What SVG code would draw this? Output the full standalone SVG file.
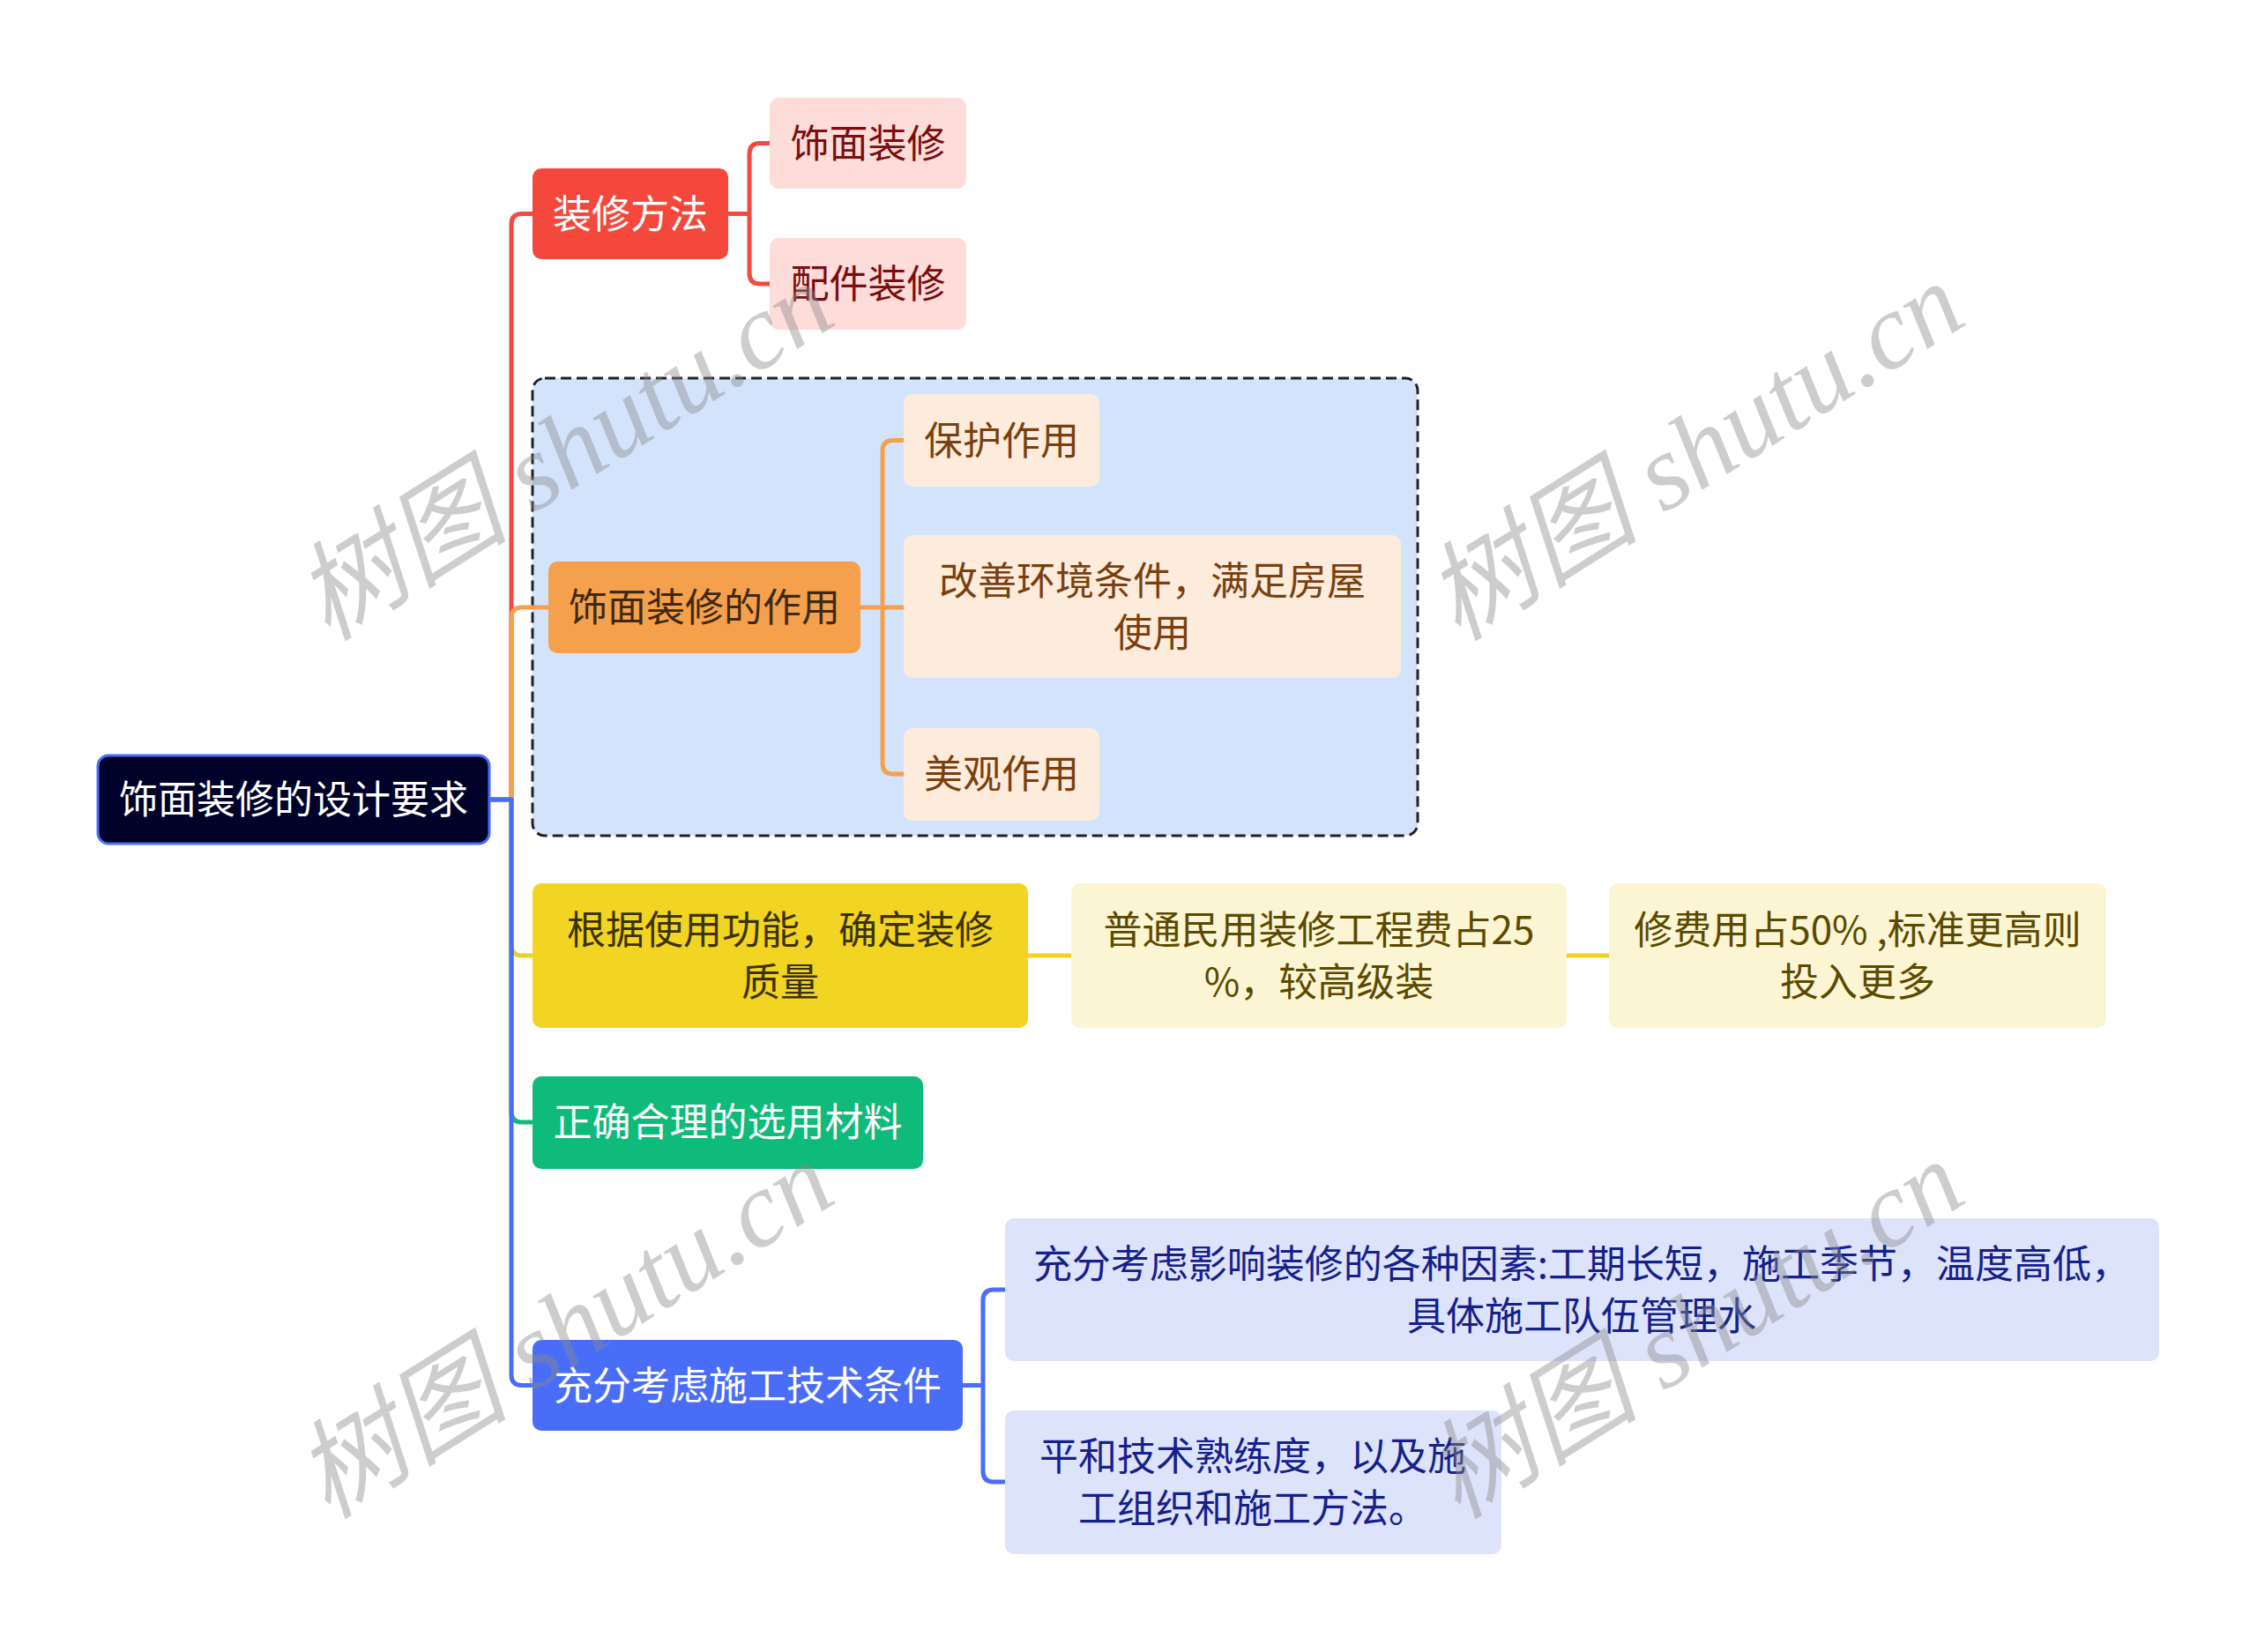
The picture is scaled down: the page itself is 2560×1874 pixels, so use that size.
<svg xmlns="http://www.w3.org/2000/svg" width="2560" height="1874" viewBox="0 0 2560 1874">
<style>
text{font-family:"Noto Sans CJK SC","Noto Sans",sans-serif;font-size:44px;text-anchor:middle;dominant-baseline:central}
.ln{fill:none;stroke-width:5;stroke-linejoin:round;stroke-linecap:butt}
.wm{font-family:"Liberation Serif","Noto Sans CJK SC",serif;font-style:italic;font-size:122px;fill:#8a8a8a;opacity:0.42;dominant-baseline:central}
</style>
<rect width="2560" height="1874" fill="#ffffff"/>
<g id="group-box">
<rect x="604" y="429" width="1004" height="519" rx="14" fill="#D4E3FC" stroke="#222" stroke-width="3" stroke-dasharray="12 6"/>
</g>
<g id="connectors">
<path class="ln" stroke="#F24A40" d="M555,907 H580 V254.5 Q580,242.5 592,242.5 H604"/>
<path class="ln" stroke="#F5A04D" d="M555,907 H580 V701 Q580,689 592,689 H622"/>
<path class="ln" stroke="#F0D025" d="M555,907 H580 V1072 Q580,1084 592,1084 H604"/>
<path class="ln" stroke="#0EBB7B" d="M555,907 H580 V1261 Q580,1273 592,1273 H604"/>
<path class="ln" stroke="#4A6DF8" d="M555,907 H580 V1559.5 Q580,1571.5 592,1571.5 H604"/>
<path class="ln" stroke="#F24A40" d="M826,242.5 H850 M873,162.5 H862 Q850,162.5 850,174.5 V310 Q850,322 862,322 H873"/>
<path class="ln" stroke="#F5A04D" d="M976,689 H1025 M1025,499.5 H1013 Q1001,499.5 1001,511.5 V866 Q1001,878 1013,878 H1025"/>
<path class="ln" stroke="#F0D025" d="M1166,1084 H1215 M1777,1084 H1825"/>
<path class="ln" stroke="#4A6DF8" d="M1092,1571.5 H1115 M1140,1463 H1127 Q1115,1463 1115,1475 V1669 Q1115,1681 1127,1681 H1140"/>
</g>
<g id="root">
<rect x="111" y="857" width="444" height="100" rx="12" fill="#00022A" stroke="#4A6DF8" stroke-width="3"/>
<text x="333" y="904" fill="#ffffff">饰面装修的设计要求</text>
</g>
<g id="n-method">
<rect x="604" y="191" width="222" height="103" rx="10" fill="#F5483D"/>
<text x="715" y="239.5" fill="#ffffff">装修方法</text>
</g>
<g id="n-method-1">
<rect x="873" y="111" width="223" height="103" rx="10" fill="#FDDCDA"/>
<text x="984.5" y="159.5" fill="#7A0E0E">饰面装修</text>
</g>
<g id="n-method-2">
<rect x="873" y="270" width="223" height="104" rx="10" fill="#FDDCDA"/>
<text x="984.5" y="319" fill="#7A0E0E">配件装修</text>
</g>
<g id="n-role">
<rect x="622" y="637" width="354" height="104" rx="10" fill="#F5A04D"/>
<text x="799" y="686" fill="#3E2A12">饰面装修的作用</text>
</g>
<g id="n-role-1">
<rect x="1025" y="447" width="222" height="105" rx="10" fill="#FDEBDC"/>
<text x="1136" y="496.5" fill="#7A3F0E">保护作用</text>
</g>
<g id="n-role-2">
<rect x="1025" y="607" width="564" height="162" rx="10" fill="#FDEBDC"/>
<text x="1307" y="656" fill="#7A3F0E">改善环境条件，满足房屋</text>
<text x="1307" y="715" fill="#7A3F0E">使用</text>
</g>
<g id="n-role-3">
<rect x="1025" y="826" width="222" height="105" rx="10" fill="#FDEBDC"/>
<text x="1136" y="875" fill="#7A3F0E">美观作用</text>
</g>
<g id="n-func">
<rect x="604" y="1002" width="562" height="164" rx="10" fill="#F2D422"/>
<text x="885" y="1052" fill="#3B3200">根据使用功能，确定装修</text>
<text x="885" y="1111" fill="#3B3200">质量</text>
</g>
<g id="n-func-1">
<rect x="1215" y="1002" width="562" height="164" rx="10" fill="#FCF5D3"/>
<text x="1496" y="1052" fill="#5A4A00">普通民用装修工程费占25</text>
<text x="1496" y="1111" fill="#5A4A00">%，较高级装</text>
</g>
<g id="n-func-2">
<rect x="1825" y="1002" width="564" height="164" rx="10" fill="#FCF5D3"/>
<text x="2107" y="1052" fill="#5A4A00">修费用占50% ,标准更高则</text>
<text x="2107" y="1111" fill="#5A4A00">投入更多</text>
</g>
<g id="n-material">
<rect x="604" y="1221" width="443" height="105" rx="10" fill="#0EBB7B"/>
<text x="825.5" y="1270" fill="#ffffff">正确合理的选用材料</text>
</g>
<g id="n-tech">
<rect x="604" y="1520" width="488" height="103" rx="10" fill="#4A6DF8"/>
<text x="848" y="1568.5" fill="#ffffff">充分考虑施工技术条件</text>
</g>
<g id="n-tech-1">
<rect x="1140" y="1382" width="1309" height="162" rx="10" fill="#DCE3FB"/>
<text x="1794" y="1431" fill="#17208A">充分考虑影响装修的各种因素:工期长短，施工季节，温度高低，</text>
<text x="1794" y="1490" fill="#17208A">具体施工队伍管理水</text>
</g>
<g id="n-tech-2">
<rect x="1140" y="1600" width="563" height="163" rx="10" fill="#DCE3FB"/>
<text x="1421" y="1649" fill="#17208A">平和技术熟练度，以及施</text>
<text x="1421" y="1708" fill="#17208A">工组织和施工方法。</text>
</g>
<g id="watermarks">
<text class="wm" transform="translate(640,512) rotate(-32)">树图 shutu.cn</text>
<text class="wm" transform="translate(1922,512) rotate(-32)">树图 shutu.cn</text>
<text class="wm" transform="translate(640,1508) rotate(-32)">树图 shutu.cn</text>
<text class="wm" transform="translate(1922,1508) rotate(-32)">树图 shutu.cn</text>
</g>
</svg>
